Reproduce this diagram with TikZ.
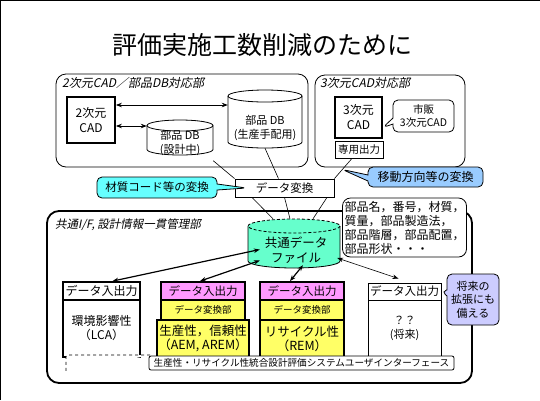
\documentclass[tikz,border=0pt]{standalone}
\usepackage{fontspec}
\setmainfont{Noto Sans CJK JP}
\newfontfamily\jpit[FakeSlant=0.2]{Noto Sans CJK JP}
\usetikzlibrary{arrows.meta,shapes.callouts,calc}
\definecolor{cyanbub}{HTML}{66FFFF}
\definecolor{bluebub}{HTML}{99CCFF}
\definecolor{filegreen}{HTML}{66FFCC}
\definecolor{pinkhead}{HTML}{FF99FF}
\definecolor{yellowbody}{HTML}{FFFF66}
\definecolor{lavbub}{HTML}{CCCCFF}
\tikzset{
  thinbox/.style={draw, line width=0.8pt, fill=white, inner sep=1pt, align=center},
  thickbox/.style={draw, line width=1.8pt, fill=white, inner sep=1pt, align=center},
  grpbox/.style={draw, line width=0.8pt, rounded corners=10pt},
  grplabel/.style={anchor=west, inner sep=0pt, font=\jpit\fontsize{12}{14}\selectfont},
  dblarrow/.style={{Stealth[length=6pt,width=4.5pt]}-{Stealth[length=6pt,width=4.5pt]}, line width=1.2pt},
  conn/.style={line width=0.6pt},
  bubble/.style={rectangle callout, draw, line width=0.8pt, rounded corners=5pt, align=center, inner sep=1pt, callout pointer width=6pt},
  cylarea/.style={inner sep=0pt, align=center}
}
\begin{document}
\begin{tikzpicture}[x=1pt,y=-1pt]
\useasboundingbox (0,0) rectangle (540,400);
\draw[line width=1pt] (0.5,400) -- (0.5,0.5) -- (540,0.5);

% title
\node (title) at (262,45) {\fontsize{25}{28}\selectfont 評価実施工数削減のために};

% ---------- upper left group
\node[grpbox, minimum width=252pt, minimum height=93pt] (g2d) at (182,120.5) {};
\node[grplabel] (g2dlabel) at (62,83) {2次元CAD／部品DB対応部};
\node[thickbox, minimum width=48pt, minimum height=46pt, font=\fontsize{12}{15}\selectfont] (cad2) at (91,120) {2次元\\CAD};

% cylinder DB1
\fill[white] (147,125.5) -- (147,149.5) arc[start angle=180,end angle=0,x radius=33,y radius=5.5] -- (213,125.5) arc[start angle=0,end angle=-180,x radius=33,y radius=5.5] -- cycle;
\draw[line width=0.8pt] (147,125.5) -- (147,149.5) arc[start angle=180,end angle=0,x radius=33,y radius=5.5] -- (213,125.5);
\draw[line width=0.8pt] (180,125.5) ellipse[x radius=33,y radius=5.5];
\node[cylarea, minimum width=66pt, minimum height=35pt, font=\fontsize{11}{14}\selectfont] (db1) at (180,143) {部品 DB\\(設計中)};

% cylinder DB2
\fill[white] (228,96) -- (228,142) arc[start angle=180,end angle=0,x radius=37,y radius=6] -- (302,96) arc[start angle=0,end angle=-180,x radius=37,y radius=6] -- cycle;
\draw[line width=0.8pt] (228,96) -- (228,142) arc[start angle=180,end angle=0,x radius=37,y radius=6] -- (302,96);
\draw[line width=0.8pt] (265,96) ellipse[x radius=37,y radius=6];
\node[cylarea, minimum width=74pt, minimum height=40pt, font=\fontsize{11}{14}\selectfont] (db2) at (265,128) {部品 DB\\(生産手配用)};

\draw[dblarrow, line width=0.8pt] ([yshift=15pt]cad2.east) -- ([yshift=15pt]cad2.east -| db2.west);
\draw[dblarrow, line width=0.8pt] ([yshift=-6pt]cad2.east) -- ([yshift=-6pt]cad2.east -| db1.west);

% ---------- upper right group
\node[grpbox, minimum width=150pt, minimum height=92pt] (g3d) at (390,121) {};
\node[grplabel] (g3dlabel) at (320,83) {3次元CAD対応部};
\node[thickbox, minimum width=47pt, minimum height=41pt, font=\fontsize{12}{15}\selectfont] (cad3) at (358.5,117.5) {3次元\\CAD};
\node[thinbox, minimum width=48pt, minimum height=17pt, font=\fontsize{10.5}{12}\selectfont] (out3) at (359,149.5) {専用出力};
\node[bubble, fill=white, minimum width=61pt, minimum height=32pt, font=\fontsize{10.5}{12.5}\selectfont,
      callout absolute pointer={([yshift=-10pt]cad3.east)}] (shihan) at (423.5,116) {市販\\3次元CAD};

% ---------- data conversion
\node[thinbox, minimum width=99pt, minimum height=18pt, font=\fontsize{11.5}{13}\selectfont] (conv) at (284.5,188) {データ変換};
\draw[conn] (db1.south east) -- (conv.north west);
\draw[conn] (db2.south) -- ([xshift=-6pt]conv.north);
\draw[conn] ([xshift=-7pt]out3.south) -- (conv.north east);
\coordinate (p3) at ($([xshift=-7pt]out3.south)!0.55!(conv.north east)$);

\node[bubble, fill=cyanbub, minimum width=120pt, minimum height=21pt, font=\fontsize{11.5}{13}\selectfont,
      callout absolute pointer={([xshift=12pt]conv.west)}] (b1) at (157,187.5) {材質コード等の変換};
\node[bubble, fill=bluebub, minimum width=115pt, minimum height=20pt, font=\fontsize{12}{13}\selectfont,
      callout absolute pointer={(p3)}] (b2) at (425.5,177) {移動方向等の変換};

% ---------- lower group
\node[draw, line width=1.8pt, rounded corners=12pt, minimum width=425pt, minimum height=172pt] (glow) at (259.5,297) {};
\node[grplabel, font=\jpit\fontsize{11.5}{13}\selectfont] (glowlabel) at (55,225) {共通I/F, 設計情報一貫管理部};

% common data file cylinder (named area first, drawn shape, text later)
\node[cylarea, minimum width=92pt, minimum height=49pt] (cf) at (294,243.5) {};
\draw[conn] ([xshift=-32.5pt]conv.south) -- ([xshift=-21pt]cf.north);
\draw[conn] (conv.south) -- ([xshift=-4pt]cf.north);
\draw[conn] ([xshift=42.5pt]conv.south) -- ([xshift=19pt]cf.north);
\fill[filegreen] (248,226) -- (248,261) arc[start angle=180,end angle=0,x radius=46,y radius=7] -- (340,226) arc[start angle=0,end angle=-180,x radius=46,y radius=7] -- cycle;
\draw[line width=0.8pt] (248,226) -- (248,261) arc[start angle=180,end angle=0,x radius=46,y radius=7] -- (340,226);
\draw[line width=0.8pt, dash pattern=on 3pt off 2pt] (294,226) ellipse[x radius=46,y radius=7];

% parts info bubble
\node[draw, line width=0.8pt, fill=white, rounded corners=8pt, minimum width=117pt, minimum height=59pt, inner sep=2pt,
      align=left, font=\fontsize{12}{14}\selectfont] (info) at (404.5,227.5)
      {部品名，番号，材質，\\質量，部品製造法，\\部品階層，部品配置，\\部品形状・・・};

% column 1
\node[thickbox, minimum width=77pt, minimum height=57pt, font=\fontsize{12}{14}\selectfont] (b1body) at (101.5,328.5) {環境影響性\\（LCA）};
\node[thickbox, minimum width=77pt, minimum height=18pt, font=\fontsize{12}{13}\selectfont] (h1) at (101.5,291) {データ入出力};

% column 2
\node[thickbox, fill=yellowbody, minimum width=84pt, minimum height=37pt, font=\fontsize{12.5}{14}\selectfont] (b2body) at (203,338.5) {生産性，信頼性\\（AEM, AREM）};
\node[thickbox, fill=yellowbody, minimum width=84pt, minimum height=20pt, font=\fontsize{9.5}{11}\selectfont] (s2) at (203,310) {データ変換部};
\node[thickbox, fill=pinkhead, minimum width=84pt, minimum height=18pt, font=\fontsize{11.5}{13}\selectfont] (h2) at (203,291) {データ入出力};

% column 3
\node[thickbox, fill=yellowbody, minimum width=84pt, minimum height=37pt, font=\fontsize{12.5}{14}\selectfont] (b3body) at (302,338.5) {リサイクル性\\（REM）};
\node[thickbox, fill=yellowbody, minimum width=84pt, minimum height=20pt, font=\fontsize{9.5}{11}\selectfont] (s3) at (302,310) {データ変換部};
\node[thickbox, fill=pinkhead, minimum width=84pt, minimum height=18pt, font=\fontsize{11.5}{13}\selectfont] (h3) at (302,291) {データ入出力};

% column 4
\node[thinbox, minimum width=73pt, minimum height=56pt, font=\fontsize{11}{14}\selectfont] (b4body) at (404.5,328) {？？\\(将来)};
\node[thinbox, minimum width=73pt, minimum height=17pt, font=\fontsize{11.5}{13}\selectfont] (h4) at (404.5,291.5) {データ入出力};

% dashed frame and user interface
\draw[line width=0.7pt, dashed, fill=white] (150,355) -- (68,355) arc[start angle=-90,end angle=-180,radius=2] -- (66,373);
\node[draw, line width=0.8pt, fill=white, rounded corners=2pt, minimum width=305pt, minimum height=14pt, inner sep=0pt,
      font=\fontsize{9.6}{11}\selectfont] (ui) at (301.5,363) {生産性・リサイクル性統合設計評価システムユーザインターフェース};

% future bubble
\node[bubble, fill=lavbub, minimum width=52pt, minimum height=51pt, font=\fontsize{11}{13.5}\selectfont,
      callout absolute pointer={(h4.east)}] (future) at (473,299.5) {将来の\\拡張にも\\備える};

% arrows from common file
\draw[dblarrow] ([xshift=12pt,yshift=-6pt]cf.west) -- ([xshift=11pt]h1.north);
\draw[dblarrow] ([xshift=12pt,yshift=-17pt]cf.west) -- ([xshift=-3pt]h2.north);
\draw[dblarrow] ([xshift=9pt,yshift=3pt]cf.south) -- ([xshift=-12pt]h3.north);
\draw[dblarrow, line width=0.6pt] ([xshift=-3pt,yshift=-14.5pt]cf.east) -- ([xshift=-6pt,yshift=4pt]h4.north);

% common file text on top
\node[cylarea, font=\fontsize{12.5}{14.5}\selectfont] (cftext) at (296,250) {共通データ\\ファイル};
\end{tikzpicture}
\end{document}
